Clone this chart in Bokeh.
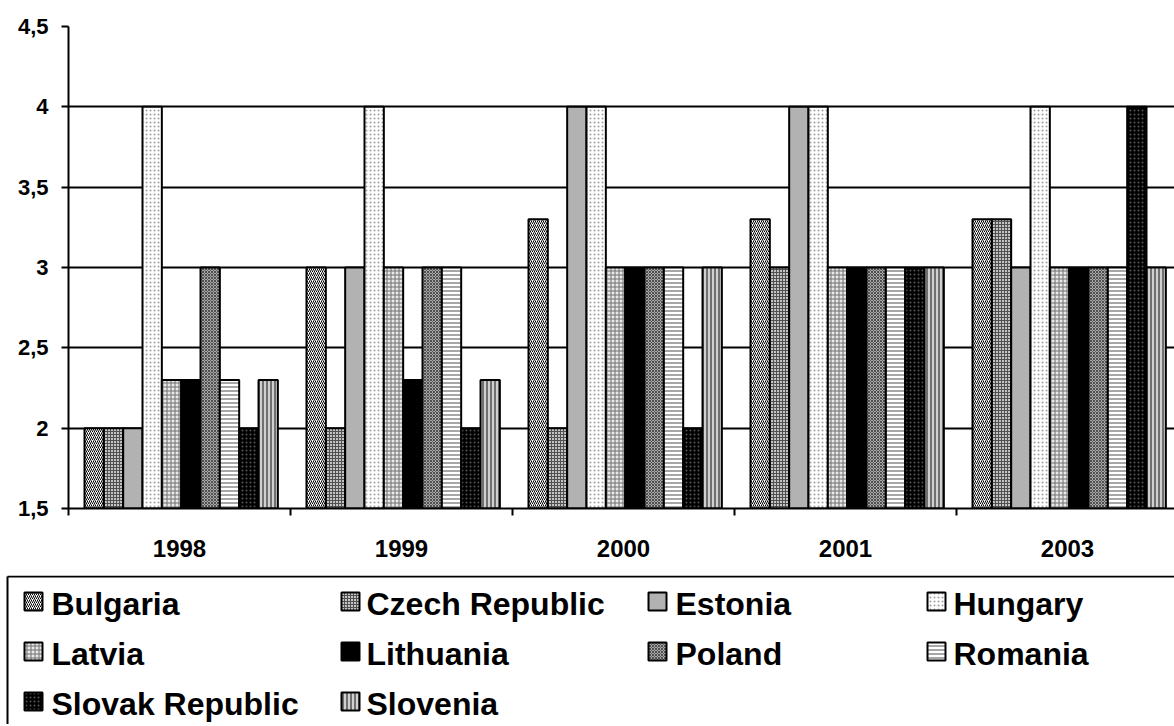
from bokeh.plotting import figure
from bokeh.models import Range1d, FixedTicker, ColumnDataSource
from bokeh.transform import dodge
from bokeh.core.properties import value
from bokeh.embed import file_html
from bokeh.resources import INLINE

# ---------------- data ----------------
years = ["1998", "1999", "2000", "2001", "2003"]
countries = ["Bulgaria", "Czech Republic", "Estonia", "Hungary", "Latvia",
             "Lithuania", "Poland", "Romania", "Slovak Republic", "Slovenia"]
bulgaria = [2, 3, 3.3, 3.3, 3.3]
czech_republic = [2, 2, 2, 3, 3.3]
estonia = [2, 3, 4, 4, 3]
hungary = [4, 4, 4, 4, 4]
latvia = [2.3, 3, 3, 3, 3]
lithuania = [2.3, 2.3, 3, 3, 3]
poland = [3, 3, 3, 3, 3]
romania = [2.3, 3, 3, 3, 3]
slovak_republic = [2, 2, 2, 3, 4]
slovenia = [2.3, 2.3, 3, 3, 3]
series = [bulgaria, czech_republic, estonia, hungary, latvia,
          lithuania, poland, romania, slovak_republic, slovenia]
y_ticks = [1.5, 2, 2.5, 3, 3.5, 4, 4.5]
y_tick_labels = ["1,5", "2", "2,5", "3", "3,5", "4", "4,5"]

# ---------------- styles ----------------
styles = [
    dict(fill_color="white", hatch_pattern="/", hatch_color="black", hatch_scale=4, hatch_weight=1),
    dict(fill_color="#c4c4c4", hatch_pattern="+", hatch_color="#505050", hatch_scale=3, hatch_weight=1),
    dict(fill_color="#b2b2b2", hatch_pattern=" ", hatch_color="#b2b2b2", hatch_scale=4, hatch_weight=1),
    dict(fill_color="white", hatch_pattern=".", hatch_color="#a0a0a0", hatch_scale=4, hatch_weight=1),
    dict(fill_color="#e8e8e8", hatch_pattern="+", hatch_color="#707070", hatch_scale=4, hatch_weight=1),
    dict(fill_color="black", hatch_pattern=" ", hatch_color="black", hatch_scale=4, hatch_weight=1),
    dict(fill_color="#a8a8a8", hatch_pattern="x", hatch_color="#505050", hatch_scale=3, hatch_weight=1),
    dict(fill_color="white", hatch_pattern="-", hatch_color="#8a8a8a", hatch_scale=4, hatch_weight=1.5),
    dict(fill_color="black", hatch_pattern=".", hatch_color="#555555", hatch_scale=4, hatch_weight=1),
    dict(fill_color="#d0d0d0", hatch_pattern="|", hatch_color="#505050", hatch_scale=4, hatch_weight=1.5),
]

FONT = "Liberation Sans"
W = 1174

# ---------------- chart ----------------
p = figure(width=W, height=575, output_backend="svg", toolbar_location=None,
           x_range=Range1d(0, 4.982), y_range=Range1d(1.5, 4.5),
           min_border_left=68, min_border_right=0, min_border_top=26, min_border_bottom=67)
p.outline_line_color = None
p.background_fill_color = "white"
p.border_fill_color = "white"

src = ColumnDataSource(dict(xc=[i + 0.5 for i in range(len(years))],
                            **{f"s{k}": s for k, s in enumerate(series)}))

bar_w = 0.0871
for k, st in enumerate(styles):
    off = -0.3844 + bar_w * k
    p.vbar(x=dodge("xc", off, range=p.x_range), top=f"s{k}", bottom=1.5, width=bar_w,
           source=src, line_color="black", line_width=2, **st)

# x axis: labels at centers, ticks at boundaries
p.xaxis.ticker = FixedTicker(ticks=[i + 0.5 for i in range(len(years))],
                             minor_ticks=list(range(len(years) + 1)))
p.xaxis.major_label_overrides = {i + 0.5: y for i, y in enumerate(years)}
p.xaxis.major_tick_line_color = None
p.xaxis.major_tick_out = 0
p.xaxis.major_tick_in = 0
p.xaxis.minor_tick_line_color = "black"
p.xaxis.minor_tick_line_width = 2
p.xaxis.minor_tick_in = 0
p.xaxis.minor_tick_out = 7
p.xaxis.axis_line_color = "black"
p.xaxis.axis_line_width = 2
p.xaxis.major_label_text_font = FONT
p.xaxis.major_label_text_font_style = "bold"
p.xaxis.major_label_text_font_size = "24px"
p.xaxis.major_label_text_color = "black"
p.xaxis.major_label_standoff = 24

p.yaxis.ticker = FixedTicker(ticks=y_ticks, minor_ticks=[])
p.yaxis.major_label_overrides = {t: l for t, l in zip(y_ticks, y_tick_labels)}
p.yaxis.major_tick_line_color = "black"
p.yaxis.major_tick_line_width = 2
p.yaxis.major_tick_in = 0
p.yaxis.major_tick_out = 7
p.yaxis.axis_line_color = "black"
p.yaxis.axis_line_width = 2
p.yaxis.major_label_text_font = FONT
p.yaxis.major_label_text_font_style = "bold"
p.yaxis.major_label_text_font_size = "22px"
p.yaxis.major_label_text_color = "black"
p.yaxis.major_label_standoff = 13

p.xgrid.grid_line_color = None
p.ygrid.ticker = FixedTicker(ticks=y_ticks[1:], minor_ticks=[])
p.ygrid.grid_line_color = "black"
p.ygrid.grid_line_width = 2

# ---------------- legend (drawn in its own panel) ----------------
LH = 149
lg = figure(width=W, height=LH, output_backend="svg", toolbar_location=None,
            x_range=Range1d(0, W), y_range=Range1d(575 + LH, 575),
            x_axis_location=None, y_axis_location=None,
            min_border=0, min_border_left=0, min_border_right=0,
            min_border_top=0, min_border_bottom=0)
lg.outline_line_color = None
lg.grid.visible = False
lg.background_fill_color = "white"
lg.border_fill_color = "white"

# legend frame (top and left edges; the rest lies beyond the page)
lg.multi_line(xs=[[7, 7], [7, 1300]], ys=[[900, 576], [576, 576]], line_color="black", line_width=2)

col_sq = [23, 340, 647, 926]
col_tx = [51, 366, 675, 953]
row_y = [603, 653, 703]
for k, (name, st) in enumerate(zip(countries, styles)):
    r, c = divmod(k, 4)
    lg.rect(x=[col_sq[c] + 10], y=[row_y[r] - 2], width=18, height=18,
            line_color="black", line_width=2, **st)
    lg.text(x=[col_tx[c]], y=[row_y[r]], text=[name], text_font=value(FONT),
            text_font_style="bold", text_font_size="32px", text_baseline="middle",
            text_align="left", text_color="black")

open("out.html", "w").write(file_html([p, lg], INLINE))
